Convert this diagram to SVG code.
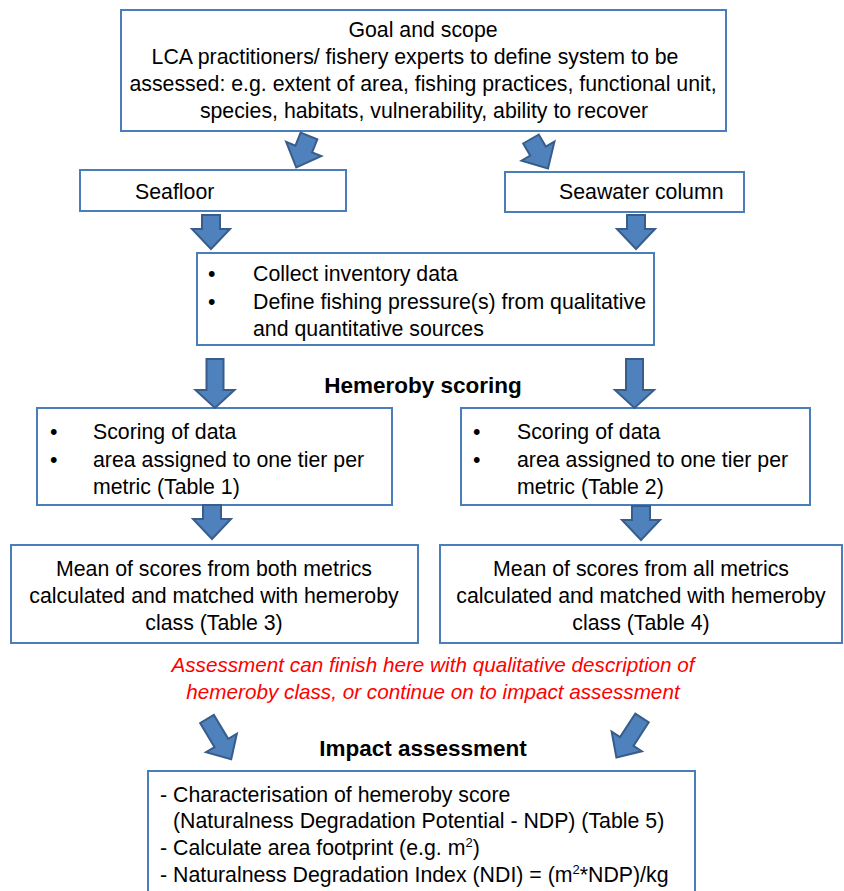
<svg xmlns="http://www.w3.org/2000/svg" width="844" height="891" viewBox="0 0 844 891">
<defs>
<style>
.box{fill:#fff;stroke:#4a7ebb;stroke-width:2}
.t{font-family:"Liberation Sans",Arial,sans-serif;font-size:21.3px;fill:#000}
.c{text-anchor:middle}
.b{font-weight:bold;font-size:22.5px}
.r{fill:#ff0000;font-style:italic;font-size:20.7px}
.arr{fill:#4f81bd;stroke:#385d8a;stroke-width:2;stroke-linejoin:miter}
</style>
<path id="arrS" d="M-9,0 H9 V14 H19 L0,34 L-19,14 H-9 Z"/>
<path id="arrL" d="M-8.5,0 H8.5 V31 H19.5 L0,49 L-19.5,31 H-8.5 Z"/>
<path id="arrD" d="M-8,0 H8 V28 H18 L0,47 L-18,28 H-8 Z"/>
</defs>
<rect width="844" height="891" fill="#fff"/>

<g id="goal">
<rect class="box" x="121" y="10" width="605" height="121"/>
<text class="t c" x="423" y="37">Goal and scope</text>
<text class="t c" x="415" y="64">LCA practitioners/ fishery experts to define system to be</text>
<text class="t c" x="423" y="91">assessed: e.g. extent of area, fishing practices, functional unit,</text>
<text class="t c" x="424" y="118">species, habitats, vulnerability, ability to recover</text>
</g>

<g id="seafloor">
<rect class="box" x="80" y="170" width="266" height="41"/>
<text class="t" x="135" y="199">Seafloor</text>
</g>

<g id="seawater">
<rect class="box" x="505" y="172" width="239" height="40"/>
<text class="t" x="559" y="199">Seawater column</text>
</g>

<g id="collect">
<rect class="box" x="197" y="253" width="457" height="92"/>
<text class="t" x="208" y="281">•</text>
<text class="t" x="253" y="281">Collect inventory data</text>
<text class="t" x="208" y="309">•</text>
<text class="t" x="253" y="309">Define fishing pressure(s) from qualitative</text>
<text class="t" x="253" y="336">and quantitative sources</text>
</g>

<g id="hemeroby-label">
<text class="t c b" x="423" y="393">Hemeroby scoring</text>
</g>

<g id="score-left">
<rect class="box" x="37" y="408" width="355" height="97"/>
<text class="t" x="50" y="439">•</text>
<text class="t" x="93" y="439">Scoring of data</text>
<text class="t" x="50" y="467">•</text>
<text class="t" x="93" y="467">area assigned to one tier per</text>
<text class="t" x="93" y="494">metric (Table 1)</text>
</g>

<g id="score-right">
<rect class="box" x="461" y="408" width="349" height="97"/>
<text class="t" x="473" y="439">•</text>
<text class="t" x="517" y="439">Scoring of data</text>
<text class="t" x="473" y="467">•</text>
<text class="t" x="517" y="467">area assigned to one tier per</text>
<text class="t" x="517" y="494">metric (Table 2)</text>
</g>

<g id="mean-left">
<rect class="box" x="11" y="545" width="407" height="98"/>
<text class="t c" x="214" y="576">Mean of scores from both metrics</text>
<text class="t c" x="214" y="603">calculated and matched with hemeroby</text>
<text class="t c" x="214" y="630">class (Table 3)</text>
</g>

<g id="mean-right">
<rect class="box" x="440" y="545" width="402" height="98"/>
<text class="t c" x="641" y="576">Mean of scores from all metrics</text>
<text class="t c" x="641" y="603">calculated and matched with hemeroby</text>
<text class="t c" x="641" y="630">class (Table 4)</text>
</g>

<g id="note">
<text class="t c r" x="433" y="672">Assessment can finish here with qualitative description of</text>
<text class="t c r" x="433" y="699">hemeroby class, or continue on to impact assessment</text>
</g>

<g id="impact-label">
<text class="t c b" x="423" y="756">Impact assessment</text>
</g>

<g id="impact">
<rect class="box" x="148" y="771" width="547" height="125"/>
<text class="t" x="160" y="802">- Characterisation of hemeroby score</text>
<text class="t" x="173" y="828">(Naturalness Degradation Potential - NDP) (Table 5)</text>
<text class="t" x="160" y="855">- Calculate area footprint (e.g. m<tspan font-size="13" dy="-8">2</tspan><tspan dy="8">)</tspan></text>
<text class="t" x="160" y="882">- Naturalness Degradation Index (NDI) = (m<tspan font-size="13" dy="-8">2</tspan><tspan dy="8">*NDP)/kg</tspan></text>
</g>

<g id="connectors">
<use href="#arrS" class="arr" transform="translate(309,136) rotate(22)"/>
<use href="#arrS" class="arr" transform="translate(531,139) rotate(-30)"/>
<use href="#arrS" class="arr" transform="translate(211,215)"/>
<use href="#arrS" class="arr" transform="translate(636,215)"/>
<use href="#arrL" class="arr" transform="translate(215,359)"/>
<use href="#arrL" class="arr" transform="translate(634.5,359)"/>
<use href="#arrS" class="arr" transform="translate(212,505)"/>
<use href="#arrS" class="arr" transform="translate(641,506)"/>
<use href="#arrD" class="arr" transform="translate(207,719) rotate(-31)"/>
<use href="#arrD" class="arr" transform="translate(642,718) rotate(33)"/>
</g>
</svg>
